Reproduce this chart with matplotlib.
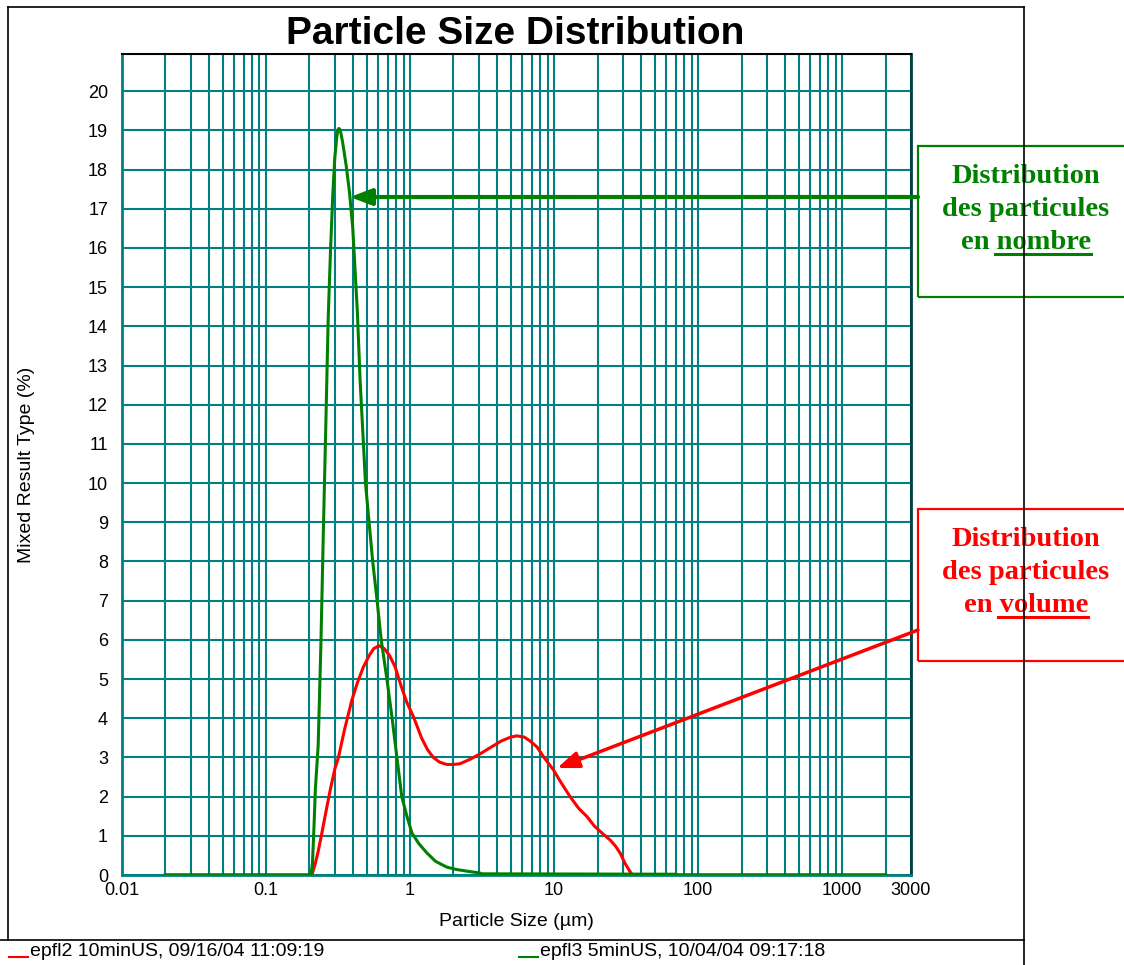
import numpy as np
import matplotlib
matplotlib.use("Agg")
from matplotlib import pyplot as plt
from matplotlib.lines import Line2D
from matplotlib.patches import Rectangle

plt.rcParams['font.family'] = ['Liberation Sans', 'DejaVu Sans']

# number distribution (green)
size_nombre = [0.02, 0.205, 0.21, 0.215, 0.22, 0.23, 0.24, 0.244, 0.25, 0.26,
               0.27, 0.28, 0.29, 0.30, 0.31, 0.315, 0.32, 0.325, 0.33, 0.34, 0.36, 0.38,
               0.40, 0.43, 0.45, 0.49, 0.55, 0.59, 0.63, 0.69, 0.75, 0.81,
               0.875, 0.95, 1.03, 1.15, 1.31, 1.5, 1.8, 2.1, 2.46, 3.06,
               3.1, 70, 71, 2000]
pct_nombre = [0, 0, 0.3, 1.2, 2.2, 3.3, 5.8, 7.0, 8.8, 11.5,
              14.2, 15.9, 17.3, 18.3, 18.85, 19.0, 19.05, 19.03, 18.95, 18.7, 18.1, 17.4,
              16.5, 14.4, 12.6, 10.0, 8.0, 7.0, 6.0, 5.0, 4.0, 3.0,
              2.0, 1.5, 1.07, 0.8, 0.56, 0.35, 0.2, 0.14, 0.1, 0.05,
              0.03, 0.02, 0, 0]

# volume distribution (red)
size_volume = [0.02, 0.205, 0.21, 0.22, 0.23, 0.244, 0.26, 0.28, 0.30, 0.318,
               0.35, 0.394, 0.43, 0.474, 0.52, 0.56, 0.609, 0.66, 0.72, 0.787,
               0.87, 0.95, 1.055, 1.2, 1.32, 1.45, 1.6, 1.8, 2.0, 2.22,
               2.6, 3.06, 3.6, 4.3, 5.0, 5.5, 6.2, 6.8, 7.59, 8.5,
               9.89, 11.2, 12.9, 14.8, 16.9, 19.0, 21.5, 24.5, 26.5, 28.7,
               31.0, 33.7, 35, 2000]
pct_volume = [0, 0, 0.05, 0.3, 0.6, 1.07, 1.6, 2.2, 2.7, 3.0,
              3.7, 4.46, 4.9, 5.31, 5.6, 5.78, 5.85, 5.78, 5.6, 5.31,
              4.8, 4.4, 4.04, 3.5, 3.2, 3.0, 2.88, 2.82, 2.82, 2.84,
              2.95, 3.09, 3.25, 3.42, 3.52, 3.55, 3.52, 3.42, 3.27, 3.0,
              2.68, 2.35, 2.0, 1.7, 1.49, 1.25, 1.07, 0.89, 0.75, 0.56,
              0.3, 0.08, 0, 0]

x_ticks = [0.01, 0.1, 1, 10, 100, 1000, 3000]
x_labels = ["0.01", "0.1", "1", "10", "100", "1000", "3000"]
y_ticks = list(range(0, 21))

legend_volume = "epfl2 10minUS, 09/16/04 11:09:19"
legend_nombre = "epfl3 5minUS, 10/04/04 09:17:18"

W, H = 1124, 965
teal = "#008080"
green = "#008000"
red = "#ff0000"


def fx(px):
    return px / W


def fy(py):
    return 1 - py / H


fig = plt.figure(figsize=(W / 100, H / 100), dpi=100)
ax = fig.add_axes([fx(122), fy(875), (911 - 122) / W, (875 - 54) / H])

ax.plot(size_volume, pct_volume, color=red, lw=2.2, zorder=3)
ax.plot(size_nombre, pct_nombre, color=green, lw=2.2, zorder=4)

ax.set_xscale("log")
ax.set_xlim(0.01, 3000)
ax.set_ylim(0, 20.95)
ax.set_xticks(x_ticks)
ax.set_xticklabels(x_labels)
minors = [m * 10.0 ** e for e in range(-2, 4) for m in range(2, 10) if m * 10.0 ** e < 3000]
ax.set_xticks(minors, minor=True)
ax.set_yticks(y_ticks)
ax.tick_params(axis="both", which="both", length=0, labelsize=13)
ax.tick_params(axis="y", pad=10)
ax.tick_params(axis="x", pad=5)
ax.grid(True, which="both", color=teal, lw=1.5)
for side in ["left", "bottom"]:
    ax.spines[side].set_color(teal)
    ax.spines[side].set_linewidth(2)
ax.spines["top"].set_color("black")
ax.spines["right"].set_color("#004040")
ax.spines["top"].set_linewidth(1.5)
ax.spines["right"].set_linewidth(2)

ax.set_xlabel("Particle Size (µm)", fontsize=14, labelpad=10)
fig.text(fx(27), fy(465), "Mixed Result Type (%)", rotation=90, fontsize=14,
         ha="center", va="center")
fig.text(fx(515), fy(44), "Particle Size Distribution", fontsize=28,
         fontweight="bold", ha="center", va="baseline")

# outer frame
frame = [((8, 7), (1024, 7)), ((8, 7), (8, 940)), ((1024, 7), (1024, 965)),
         ((0, 940), (1024, 940))]
for (x0, y0), (x1, y1) in frame:
    fig.add_artist(Line2D([fx(x0), fx(x1)], [fy(y0), fy(y1)], color="black",
                          lw=1.2, zorder=10))

# legend row
fig.add_artist(Line2D([fx(9), fx(28)], [fy(957), fy(957)], color=red, lw=1.5))
fig.text(fx(30), fy(951), legend_volume, fontsize=14, va="center")
fig.add_artist(Line2D([fx(519), fx(538)], [fy(957), fy(957)], color=green, lw=1.5))
fig.text(fx(540), fy(951), legend_nombre, fontsize=14, va="center")

# annotation boxes
serif = ['Liberation Serif', 'DejaVu Serif']
boxes = [(146, 297, green, ["Distribution", "des particules", "en nombre"], 183),
         (509, 661, red, ["Distribution", "des particules", "en volume"], 546)]
for top, bottom, col, lines, base in boxes:
    fig.add_artist(Rectangle((fx(918), fy(bottom)), fx(1140 - 918), (bottom - top) / H,
                             fill=False, edgecolor=col, lw=1.6, zorder=5, clip_on=False))
    for i, line in enumerate(lines):
        fig.text(fx(1026), fy(base + 33 * i), line, family=serif, fontsize=20.5,
                 fontweight="bold", color=col, ha="center", va="baseline", zorder=6)

fig.add_artist(Line2D([fx(995), fx(1091)], [fy(254), fy(254)], color=green, lw=2.2, zorder=6))
fig.add_artist(Line2D([fx(998), fx(1088)], [fy(617), fy(617)], color=red, lw=2.2, zorder=6))

# arrows pointing to the curves
ax.annotate("", xy=(0.383, 17.3), xycoords="data", xytext=(918, H - 197),
            textcoords="figure pixels",
            arrowprops=dict(arrowstyle="-|>,head_length=1.3,head_width=0.5",
                            color=green, lw=3, shrinkA=0, shrinkB=0))
ax.annotate("", xy=(10.5, 2.73), xycoords="data", xytext=(918, H - 630),
            textcoords="figure pixels",
            arrowprops=dict(arrowstyle="-|>,head_length=1.3,head_width=0.5",
                            color=red, lw=2.5, shrinkA=0, shrinkB=0))

fig.savefig("out.png", dpi=100)
